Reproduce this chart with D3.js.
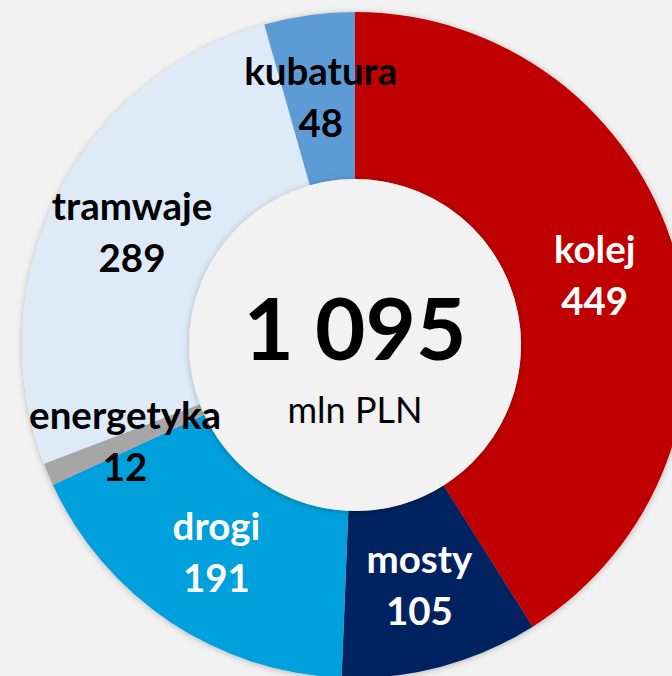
<!DOCTYPE html>
<html>
<head>
<meta charset="utf-8">
<script src="https://cdn.jsdelivr.net/npm/d3@7"></script>
<style>
  html, body { margin: 0; padding: 0; background: #f2f2f2; }
  svg { display: block; font-family: Lato, "Noto Sans", sans-serif; }
</style>
</head>
<body>
<div id="chart"></div>
<script>
// chart values
const categories = ["kolej", "mosty", "drogi", "energetyka", "tramwaje", "kubatura"];
const values = [449, 105, 191, 12, 289, 48];
const sliceColors = ["#c00000", "#002060", "#00a0dc", "#a6a6a6", "#deeaf7", "#5b9bd5"];
const labelColors = ["#ffffff", "#ffffff", "#ffffff", "#000000", "#000000", "#000000"];
const totalLabel = "1 095";
const unitLabel = "mln PLN";

const width = 672, height = 676;
const cx = 355, cy = 345;
const outerR = 333, innerR = 166;

const data = categories.map((c, i) => ({name: c, value: values[i], color: sliceColors[i], text: labelColors[i]}));

const svg = d3.select("#chart").append("svg")
    .attr("width", width)
    .attr("height", height);

svg.append("rect")
    .attr("width", width)
    .attr("height", height)
    .attr("fill", "#f2f2f2");

const defs = svg.append("defs");
defs.append("filter")
    .attr("id", "shadow")
    .attr("x", "-20%").attr("y", "-20%")
    .attr("width", "140%").attr("height", "140%")
  .append("feDropShadow")
    .attr("dx", 0).attr("dy", 1)
    .attr("stdDeviation", 3)
    .attr("flood-color", "#000")
    .attr("flood-opacity", 0.25);

const g = svg.append("g")
    .attr("transform", `translate(${cx},${cy})`);

const pie = d3.pie()
    .sort(null)
    .value(d => d.value);

const arc = d3.arc()
    .innerRadius(innerR)
    .outerRadius(outerR);

const arcs = pie(data);

g.append("g")
    .attr("filter", "url(#shadow)")
  .selectAll("path")
  .data(arcs)
  .join("path")
    .attr("d", arc)
    .attr("fill", d => d.data.color);

// centre disc
g.append("circle")
    .attr("r", innerR)
    .attr("fill", "#f2f2f2")
    .attr("filter", "url(#shadow)");

// slice labels, name on top and value below
const labels = g.selectAll(".slice-label")
  .data(arcs)
  .join("text")
    .attr("class", "slice-label")
    .attr("transform", d => `translate(${arc.centroid(d)})`)
    .attr("text-anchor", "middle")
    .attr("font-weight", 700)
    .attr("font-size", 38.5)
    .attr("fill", d => d.data.text);

labels.append("tspan")
    .attr("x", 0)
    .attr("y", -13)
    .text(d => d.data.name);

labels.append("tspan")
    .attr("x", 0)
    .attr("y", 39)
    .text(d => d.data.value);

// total in the middle
g.append("text")
    .attr("text-anchor", "middle")
    .attr("y", 15)
    .attr("font-weight", 700)
    .attr("font-size", 87)
    .attr("fill", "#000")
    .text(totalLabel);

g.append("text")
    .attr("text-anchor", "middle")
    .attr("y", 78)
    .attr("font-size", 36)
    .attr("fill", "#000")
    .text(unitLabel);
</script>
</body>
</html>
